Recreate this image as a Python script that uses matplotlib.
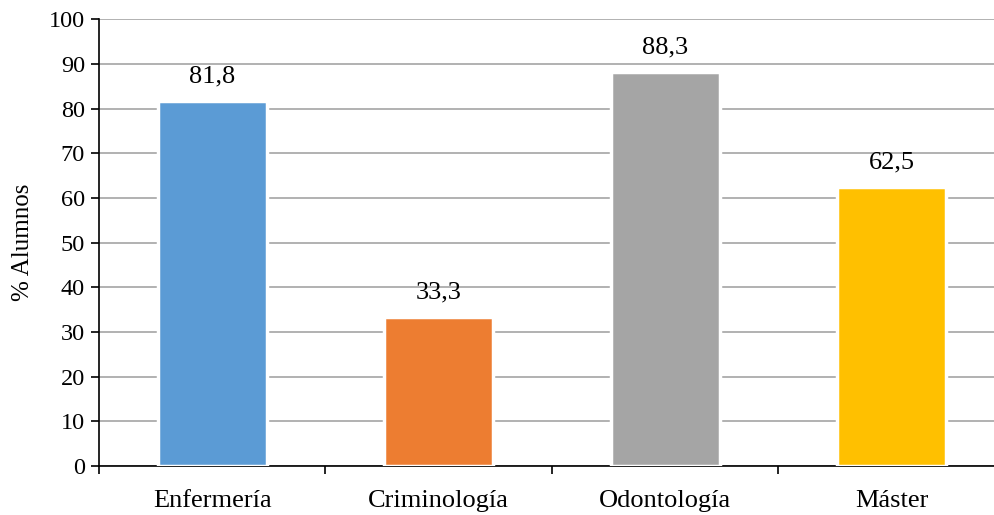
# % de alumnos por titulación
import matplotlib
matplotlib.use("Agg")
import matplotlib.pyplot as plt
import numpy as np

plt.rcParams['font.family'] = ['Liberation Serif', 'DejaVu Serif']

titulaciones = ["Enfermería", "Criminología", "Odontología", "Máster"]
porcentajes = [81.8, 33.3, 88.3, 62.5]
etiquetas = ["81,8", "33,3", "88,3", "62,5"]
colores = ["#5b9bd5", "#ed7d31", "#a5a5a5", "#ffc000"]

fig = plt.figure(figsize=(9.95, 5.15), dpi=100)
ax = fig.add_axes([0.0995, 0.0951, 0.9105, 0.8674])

x = np.arange(len(titulaciones))
bars = ax.bar(x, porcentajes, width=0.48, color=colores, edgecolor="white",
              linewidth=2.5, zorder=3)

for b, txt in zip(bars, etiquetas):
    ax.text(b.get_x() + b.get_width() / 2, b.get_height() + 3, txt,
            ha="center", va="bottom", fontsize=19, zorder=4)

ax.set_xlim(-0.5, len(titulaciones) - 0.5)
ax.set_ylim(0, 100)
ax.set_yticks(range(0, 101, 10))
ax.set_xticks(x)
ax.set_xticklabels(titulaciones, fontsize=19)
ax.set_xticks(np.arange(-0.5, len(titulaciones), 1), minor=True)
ax.tick_params(axis="x", which="major", length=0, pad=17)
ax.tick_params(axis="x", which="minor", length=6, width=1.2, direction="out")
ax.tick_params(axis="y", labelsize=17.5, length=6, width=1.2, pad=4)
ax.set_ylabel("% Alumnos", fontsize=18, labelpad=11)

ax.yaxis.grid(True, color="#ababab", linewidth=1.3, zorder=0)
ax.set_axisbelow(True)
for s in ["top", "right"]:
    ax.spines[s].set_visible(False)
ax.spines["left"].set_linewidth(1.2)
ax.spines["bottom"].set_linewidth(1.2)

fig.savefig("out.png", dpi=100)
